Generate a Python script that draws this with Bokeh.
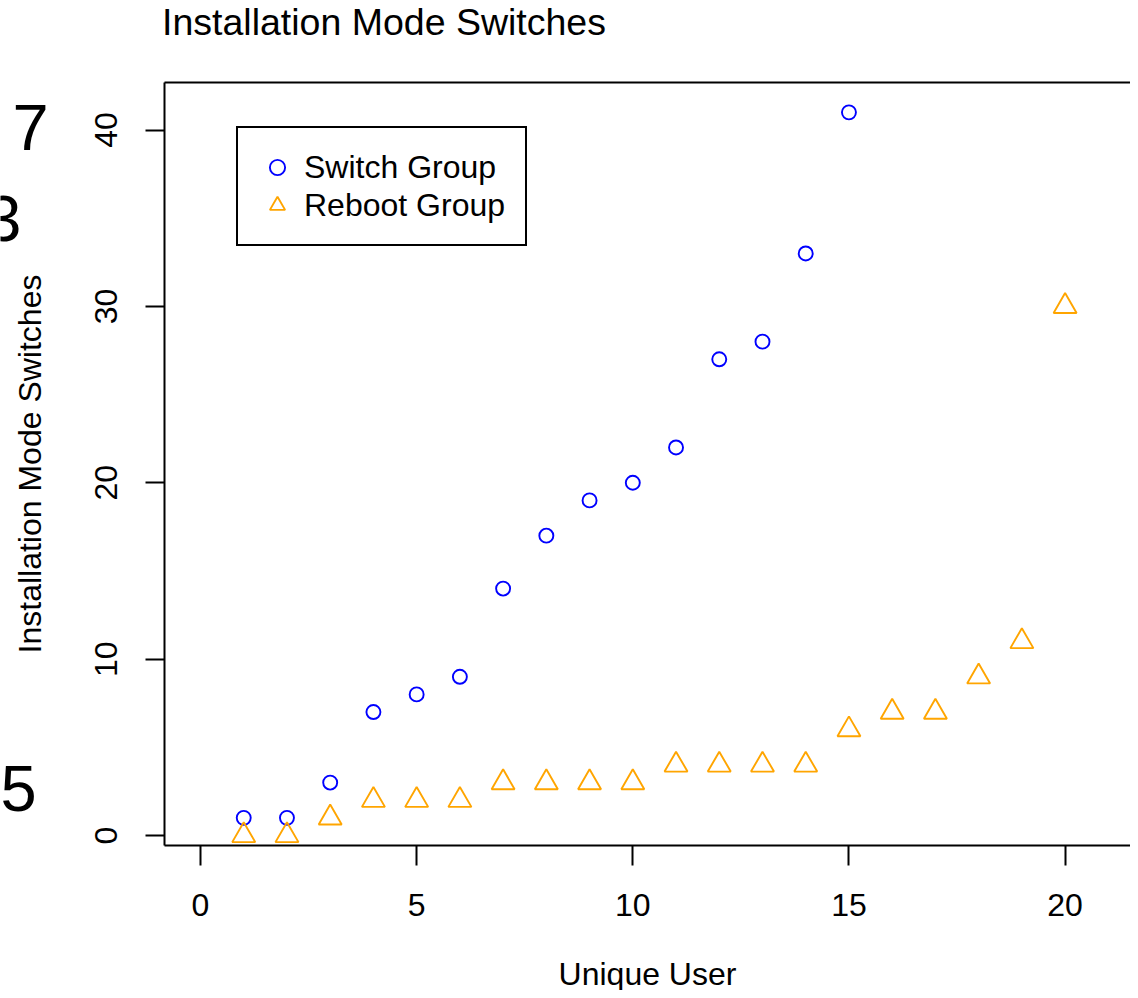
from bokeh.plotting import figure
from bokeh.models import (Range1d, FixedTicker, Legend, LegendItem, Label, LinearAxis)
from bokeh.embed import file_html
from bokeh.resources import INLINE

# ---- data ----
switch_users = list(range(1, 16))
switch_counts = [1, 1, 3, 7, 8, 9, 14, 17, 19, 20, 22, 27, 28, 33, 41]
reboot_users = list(range(1, 21))
reboot_counts = [0, 0, 1, 2, 2, 2, 3, 3, 3, 3, 4, 4, 4, 4, 6, 7, 7, 9, 11, 30]
x_ticks = [0, 5, 10, 15, 20]
y_ticks = [0, 10, 20, 30, 40]
stray_labels = ["7", "3", "5"]
title_text = "Installation Mode Switches"

FONT = "Liberation Sans"
W, H = 1130, 990
# pixel geometry (canvas coordinates)
PX0, PPX = 200.0, 43.23      # canvas x of data x=0, pixels per unit
PY0, PPY = 835.0, 17.6375    # canvas y of data y=0, pixels per unit
BOX_L, BOX_T, BOX_B = 164, 82, 845


def xd(px):
    return (px - PX0) / PPX


def yd(py):
    return (PY0 - py) / PPY


p = figure(width=W, height=H, output_backend="svg", toolbar_location=None,
           x_range=Range1d(xd(0), xd(W)), y_range=Range1d(yd(H), yd(0)),
           min_border_left=0, min_border_right=0, min_border_top=0,
           min_border_bottom=0)
p.background_fill_color = "white"
p.border_fill_color = "white"
p.outline_line_color = None
p.grid.visible = False


def style_axis(ax):
    ax.axis_line_color = "black"
    ax.axis_line_width = 2
    ax.major_tick_line_color = "black"
    ax.major_tick_line_width = 2
    ax.minor_tick_line_color = None
    ax.major_tick_in = 0
    ax.major_label_text_font = FONT
    ax.major_label_text_font_size = "32px"
    ax.major_label_text_color = "black"
    ax.axis_label_text_font = FONT
    ax.axis_label_text_font_size = "32px"
    ax.axis_label_text_font_style = "normal"
    ax.axis_label_text_color = "black"


xa = p.xaxis[0]
style_axis(xa)
xa.fixed_location = yd(BOX_B)
xa.bounds = (xd(BOX_L), xd(W))
xa.ticker = FixedTicker(ticks=x_ticks)
xa.major_tick_out = 20
xa.major_label_standoff = 28
xa.axis_label = "Unique User"
xa.axis_label_standoff = 37

ya = p.yaxis[0]
style_axis(ya)
ya.fixed_location = xd(BOX_L)
ya.bounds = (yd(BOX_B), yd(BOX_T))
ya.ticker = FixedTicker(ticks=y_ticks)
ya.major_tick_out = 19
ya.major_label_orientation = "vertical"
ya.major_label_standoff = 29
ya.axis_label = "Installation Mode Switches"
ya.axis_label_standoff = 44

# top edge of the box (right side is cut off in the reference)
top = LinearAxis(fixed_location=yd(BOX_T), bounds=(xd(BOX_L), xd(W)),
                 ticker=FixedTicker(ticks=[]))
style_axis(top)
top.major_tick_out = 0
top.major_label_text_font_size = "0px"
p.add_layout(top, "above")

r_sw = p.scatter(switch_users, switch_counts, marker="circle", size=14,
                 fill_color=None, line_color="#0000FF", line_width=1.9)
r_rb = p.scatter(reboot_users, reboot_counts, marker="triangle", size=23,
                 fill_color=None, line_color="#FFA500", line_width=1.9)

legend = Legend(items=[LegendItem(label="Switch Group", renderers=[r_sw]),
                       LegendItem(label="Reboot Group", renderers=[r_rb])],
                location=(236, H - 246))
legend.label_text_font = FONT
legend.label_text_font_size = "32px"
legend.label_text_color = "black"
legend.border_line_color = "black"
legend.border_line_alpha = 1.0
legend.border_line_width = 2
legend.background_fill_color = "white"
legend.background_fill_alpha = 1
legend.padding = 20
legend.spacing = 0
legend.margin = 0
legend.glyph_width = 38
legend.glyph_height = 38
legend.label_height = 38
legend.label_standoff = 8
p.add_layout(legend, "center")

# title (anchor compensated for how the label's baseline is placed)
p.add_layout(Label(x=xd(161.5), y=yd(21), text=title_text, text_font=FONT,
                   text_font_size="37.5px", text_color="black",
                   text_align="left", text_baseline="alphabetic"))

# stray large digits at the left edge of the reference image
for txt, px, py, align in [(stray_labels[0], 12, 127, "left"),
                           (stray_labels[1], 21, 218, "right"),
                           (stray_labels[2], 0, 788, "left")]:
    p.add_layout(Label(x=xd(px), y=yd(py), text=txt, text_font=FONT,
                       text_font_size="65px", text_color="black",
                       text_align=align, text_baseline="alphabetic"))

open("out.html", "w").write(file_html(p, INLINE))
